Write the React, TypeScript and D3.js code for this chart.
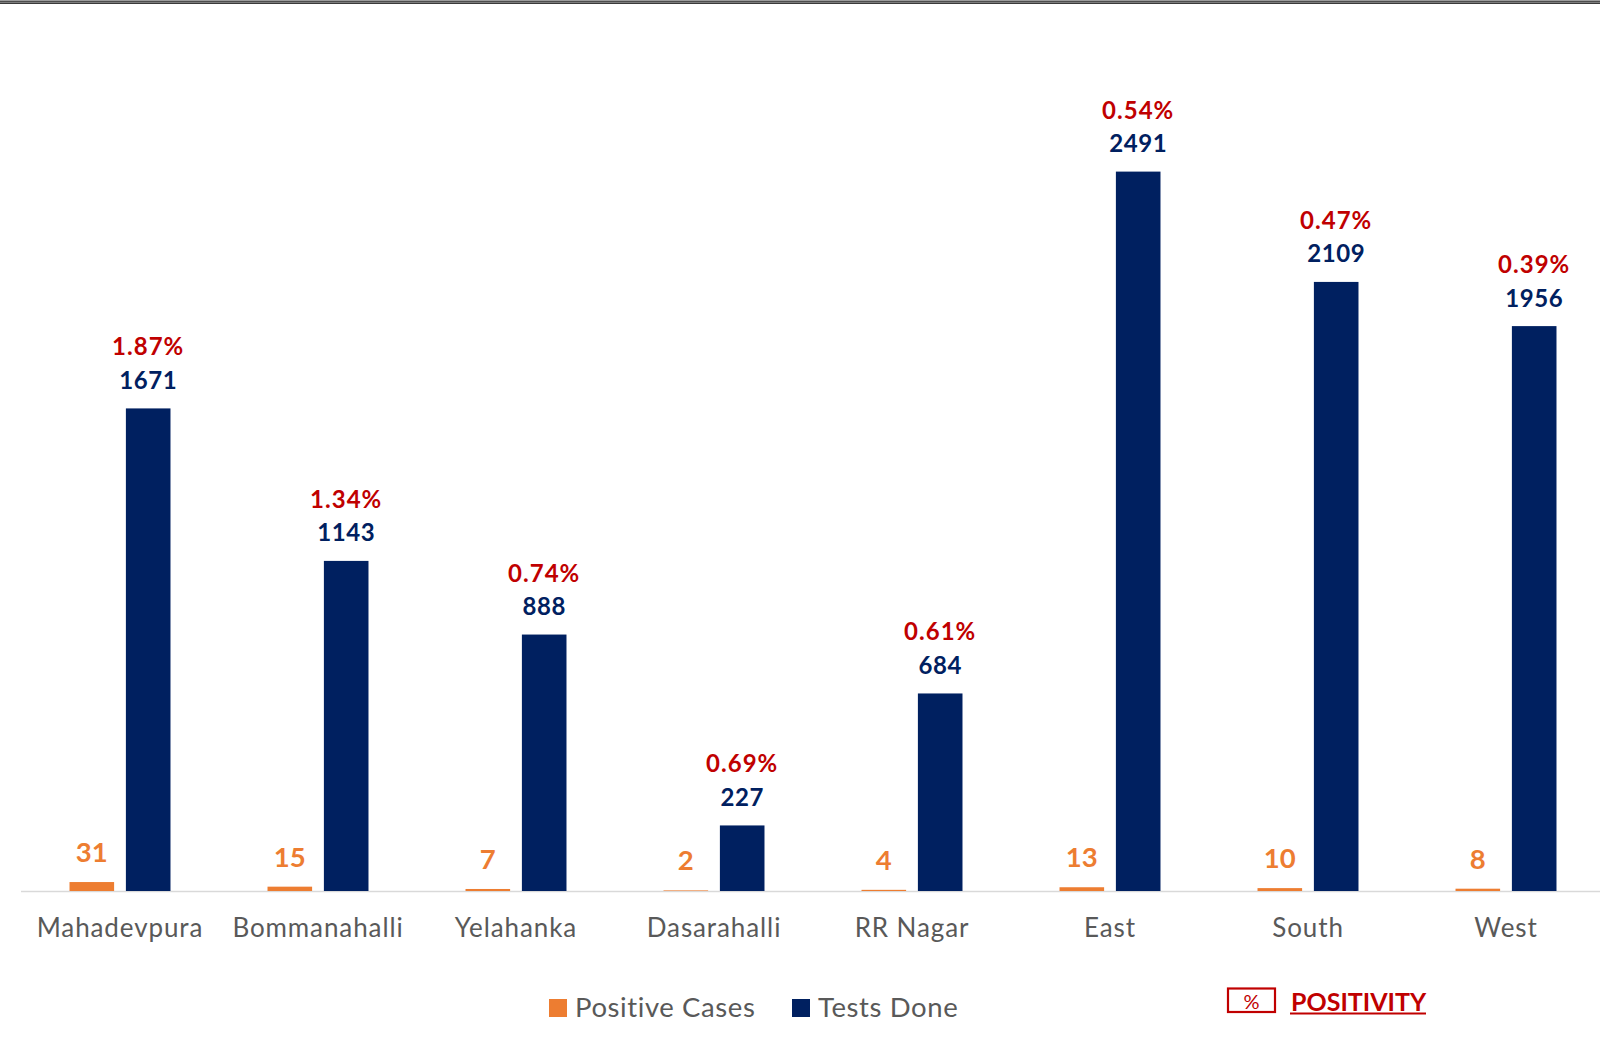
import React from "react";
import * as d3 from "d3";

const categories = ["Mahadevpura", "Bommanahalli", "Yelahanka", "Dasarahalli", "RR Nagar", "East", "South", "West"];
const positiveCases = [31, 15, 7, 2, 4, 13, 10, 8];
const testsDone = [1671, 1143, 888, 227, 684, 2491, 2109, 1956];
const positivity = ["1.87%", "1.34%", "0.74%", "0.69%", "0.61%", "0.54%", "0.47%", "0.39%"];
const seriesKeys = ["pos", "tests"];

const W = 1600;
const H = 1045;
const FONT = "Lato, 'Open Sans', sans-serif";
const ORANGE = "#ED7D31";
const NAVY = "#002060";
const RED = "#C00000";
const GRAY = "#595959";

export default function App() {
  const baseY = 891;
  const x = d3.scaleBand<string>().domain(categories).range([21, 1605]).paddingInner(0.49).paddingOuter(0.245);
  const xs = d3.scaleBand<string>().domain(seriesKeys).range([0, x.bandwidth()]).paddingInner(0.209).paddingOuter(0);
  const y = d3.scaleLinear().domain([0, 3000]).range([baseY, baseY - 866.4]);

  return (
    <div style={{ position: "absolute", left: 0, top: 0, width: W, height: H, overflow: "hidden" }}>
      <svg width={W} height={H} style={{ display: "block", background: "#fff" }}>
        <rect x={0} y={0.5} width={W} height={3.5} fill="#3a3a3a" />
        <rect x={0} y={1.8} width={W} height={0.9} fill="#9a9a9a" />
        <line x1={21} x2={W} y1={baseY + 0.5} y2={baseY + 0.5} stroke="#D9D9D9" strokeWidth={1.5} />
        {categories.map((c, i) => {
          const gx = x(c)!;
          const ox = gx + xs("pos")!;
          const nx = gx + xs("tests")!;
          const bw = xs.bandwidth();
          const oy = y(positiveCases[i]);
          const ny = y(testsDone[i]);
          return (
            <g key={c}>
              <rect x={ox} y={oy} width={bw} height={baseY - oy} fill={ORANGE} />
              <rect x={nx} y={ny} width={bw} height={baseY - ny} fill={NAVY} />
              <text x={ox + bw / 2} y={oy - 20} textAnchor="middle" fontFamily={FONT} fontWeight={700} fontSize={27.5} fill={ORANGE}>
                {positiveCases[i]}
              </text>
              <text x={nx + bw / 2} y={ny - 19.5} textAnchor="middle" fontFamily={FONT} fontWeight={700} fontSize={24} letterSpacing={0.6} fill={NAVY}>
                {testsDone[i]}
              </text>
              <text x={nx + bw / 2} y={ny - 53} textAnchor="middle" fontFamily={FONT} fontWeight={700} fontSize={24} letterSpacing={1} fill={RED}>
                {positivity[i]}
              </text>
              <text x={gx + x.bandwidth() / 2} y={937} textAnchor="middle" fontFamily={FONT} fontSize={26} letterSpacing={0.9} fill={GRAY}>
                {c}
              </text>
            </g>
          );
        })}
        <g fontFamily={FONT} fontSize={27.5} letterSpacing={0.6} fill={GRAY}>
          <rect x={549} y={999} width={18} height={18} fill={ORANGE} />
          <text x={575} y={1017}>Positive Cases</text>
          <rect x={792} y={999} width={18} height={18} fill={NAVY} />
          <text x={818} y={1017}>Tests Done</text>
        </g>
        <g>
          <rect x={1228} y={988.5} width={47} height={23.5} fill="none" stroke={RED} strokeWidth={2.2} />
          <text x={1251.5} y={1008.5} textAnchor="middle" fontFamily={FONT} fontSize={20} fill={RED}>%</text>
          <text x={1291} y={1011} fontFamily={FONT} fontWeight={700} fontSize={25} fill={RED}>POSITIVITY</text>
          <rect x={1290} y={1012.5} width={136} height={2} fill={RED} />
        </g>
      </svg>
    </div>
  );
}
